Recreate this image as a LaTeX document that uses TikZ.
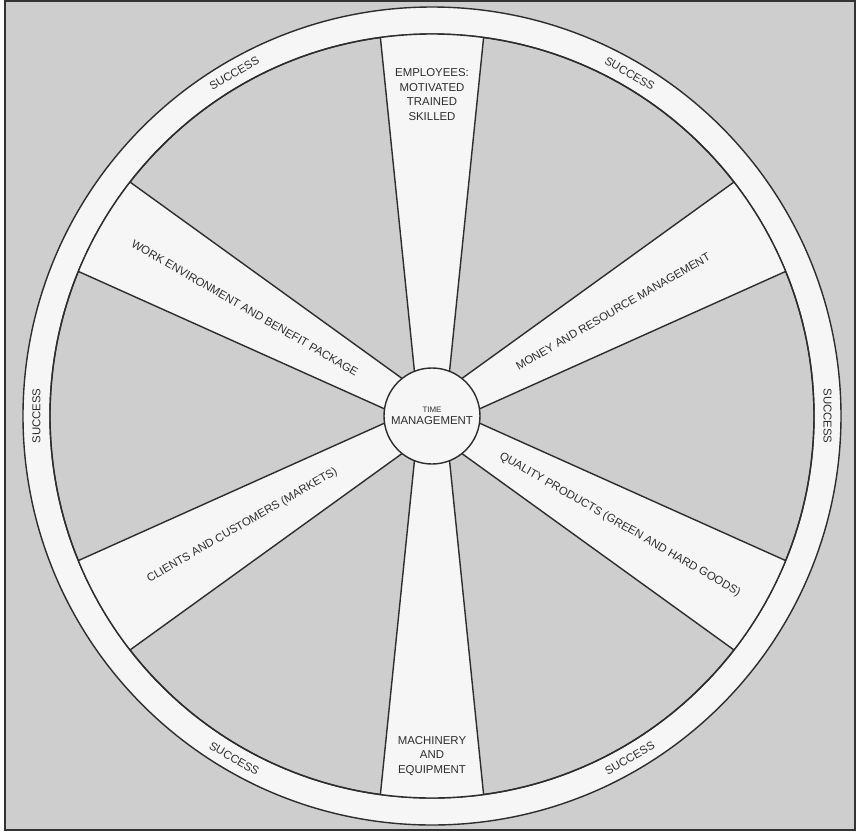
\documentclass[tikz,border=0pt]{standalone}
\usepackage{fontspec}
\setmainfont{Liberation Sans}
\usetikzlibrary{positioning}
\definecolor{wheelbg}{RGB}{206,206,206}
\definecolor{wheelwhite}{RGB}{246,246,246}
\definecolor{wheelline}{RGB}{45,45,45}

\begin{document}
\begin{tikzpicture}[font=\fontsize{6.5}{8.2}\selectfont, text=wheelline,
  rim/.style={draw=wheelline, line width=0.8pt},
  spoke/.style={draw=wheelline, fill=wheelwhite, line width=0.8pt},
  spoketext/.style={align=center, inner sep=1pt}]

% Frame and background
\useasboundingbox (-8.64,-8.32) rectangle (8.50,8.32);
\draw[fill=wheelbg, draw=black!80, line width=1pt] (-8.54,-8.28) rectangle (8.46,8.30);

% Rim of the wheel
\draw[rim, fill=wheelwhite] (0,0) circle (8.18);
\draw[rim, fill=wheelbg] (0,0) circle (7.64);

% Spokes
\begin{scope}
  \clip (0,0) circle (7.64);
  \foreach \a in {90,30,-30,-90,-150,150}
    \draw[spoke, rotate=\a] (0,-0.26) -- (8,-1.076) -- (8,1.076) -- (0,0.26) -- cycle;
\end{scope}
\draw[rim] (0,0) circle (7.64);

% Hub
\node[circle, spoke, minimum size=1.92cm, align=center, inner sep=0pt, font=\fontsize{6.5}{6.8}\selectfont] (time) at (0,0) {{\fontsize{4.5}{5}\selectfont TIME}\\MANAGEMENT};

% Spoke texts
\node[spoketext] (employees) at (90:6.43) {EMPLOYEES:\\MOTIVATED\\TRAINED\\SKILLED};
\node[spoketext, rotate=30] (money) at (30:4.18) {MONEY AND RESOURCE MANAGEMENT};
\node[spoketext, rotate=-30] (quality) at (-30:4.34) {QUALITY PRODUCTS (GREEN AND HARD GOODS)};
\node[spoketext] (machinery) at (-90:6.80) {MACHINERY\\AND\\EQUIPMENT};
\node[spoketext, rotate=30] (clients) at (-150:4.38) {CLIENTS AND CUSTOMERS (MARKETS)};
\node[spoketext, rotate=-30] (workenv) at (150:4.32) {WORK ENVIRONMENT AND BENEFIT PACKAGE};

% Success on the rim
\foreach \a/\r in {120/30,60/-30,0/-90,-60/30,-120/-30,180/90}
  \node[inner sep=0pt, rotate=\r] (succ\a) at (\a:7.91) {SUCCESS};

\end{tikzpicture}
\end{document}
